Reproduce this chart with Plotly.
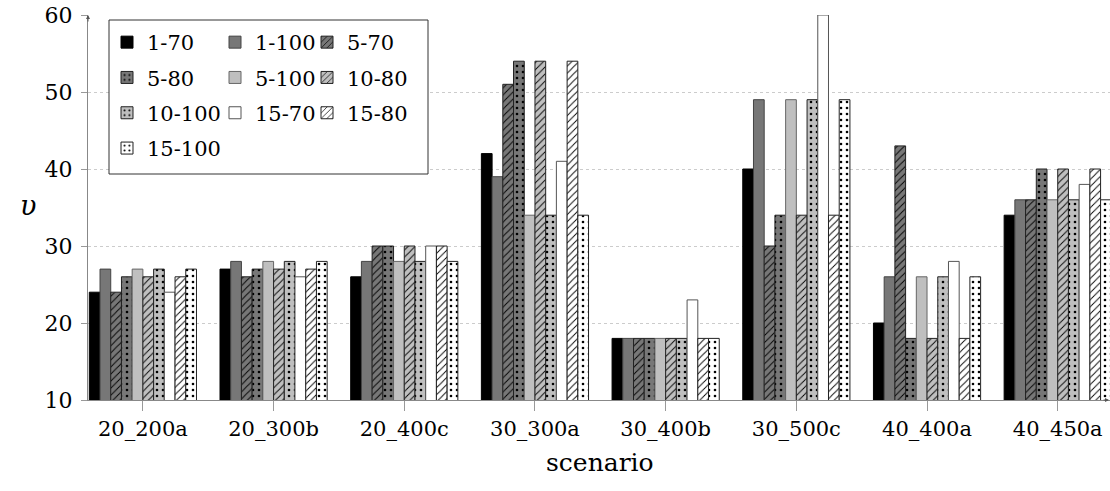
import plotly.graph_objects as go

# Scenario categories on the x axis
scenarios = ["20_200a", "20_300b", "20_400c", "30_300a",
             "30_400b", "30_500c", "40_400a", "40_450a"]

# One series per configuration
series_names = ["1-70", "1-100", "5-70", "5-80", "5-100",
                "10-80", "10-100", "15-70", "15-80", "15-100"]

v_1_70 = [24, 27, 26, 42, 18, 40, 20, 34]
v_1_100 = [27, 28, 28, 39, 18, 49, 26, 36]
v_5_70 = [24, 26, 30, 51, 18, 30, 43, 36]
v_5_80 = [26, 27, 30, 54, 18, 34, 18, 40]
v_5_100 = [27, 28, 28, 34, 18, 49, 26, 36]
v_10_80 = [26, 27, 30, 54, 18, 34, 18, 40]
v_10_100 = [27, 28, 28, 34, 18, 49, 26, 36]
v_15_70 = [24, 26, 30, 41, 23, 60, 28, 38]
v_15_80 = [26, 27, 30, 54, 18, 34, 18, 40]
v_15_100 = [27, 28, 28, 34, 18, 49, 26, 36]

values = [v_1_70, v_1_100, v_5_70, v_5_80, v_5_100,
          v_10_80, v_10_100, v_15_70, v_15_80, v_15_100]

y_ticks = [10, 20, 30, 40, 50, 60]

# fill colour, pattern shape, outline colour
styles = [
    ("#000000", "", "#000000"),
    ("#777777", "", "#444444"),
    ("#777777", "/", "#222222"),
    ("#777777", ".", "#222222"),
    ("#bfbfbf", "", "#666666"),
    ("#bfbfbf", "/", "#222222"),
    ("#bfbfbf", ".", "#222222"),
    ("#ffffff", "", "#555555"),
    ("#ffffff", "/", "#222222"),
    ("#ffffff", ".", "#222222"),
]

# legend column assignment (three columns, row-major order)
legend_of = ["legend", "legend2", "legend3",
             "legend", "legend2", "legend3",
             "legend", "legend2", "legend3",
             "legend"]

FONT = "DejaVu Serif"

fig = go.Figure()
for i, (name, vals) in enumerate(zip(series_names, values)):
    fill, shape, edge = styles[i]
    if shape == "/":
        pattern = dict(shape=shape, fgcolor="#000000", bgcolor=fill,
                       size=5, solidity=0.18, fillmode="replace")
    elif shape == ".":
        pattern = dict(shape=shape, fgcolor="#000000", bgcolor=fill,
                       size=6, solidity=0.15, fillmode="replace")
    else:
        pattern = dict(shape="")
    fig.add_trace(go.Bar(
        x=scenarios, y=vals, name=name,
        marker=dict(color=fill, line=dict(color=edge, width=1),
                    pattern=pattern),
        legend=legend_of[i], legendgroup=name,
    ))

W, H = 1110, 491
ml, mr, mt, mb = 88, 0, 15, 91
pw = W - ml - mr
ph = H - mt - mb


def px_x(p):
    return (p - ml) / pw


def px_y(p):
    return (H - mb - p) / ph


leg_common = dict(font=dict(family=FONT, size=21, color="#000"),
                  bgcolor="rgba(0,0,0,0)", borderwidth=0,
                  xanchor="left", yanchor="top", tracegroupgap=5,
                  itemwidth=30)

fig.update_layout(
    width=W, height=H,
    margin=dict(l=ml, r=mr, t=mt, b=mb),
    paper_bgcolor="white", plot_bgcolor="white",
    barmode="group", bargap=0.18, bargroupgap=0,
    font=dict(family=FONT, size=21, color="#000"),
    showlegend=True,
    legend=dict(x=px_x(107), y=px_y(22), **leg_common),
    legend2=dict(x=px_x(215), y=px_y(22), **leg_common),
    legend3=dict(x=px_x(307), y=px_y(22), **leg_common),
    xaxis=dict(
        range=[-0.42, 7.4],
        showline=True, linecolor="#888888", linewidth=1,
        ticks="outside", ticklen=10, tickcolor="#999999",
        tickfont=dict(family=FONT, size=21, color="#000"),
        showgrid=False, zeroline=False,
    ),
    yaxis=dict(
        range=[10, 60], tickvals=y_ticks,
        showline=True, linecolor="#888888", linewidth=1,
        ticks="outside", ticklen=6, tickcolor="#999999",
        ticklabelstandoff=4,
        tickfont=dict(family=FONT, size=22, color="#000"),
        showgrid=True, gridcolor="#cccccc", griddash="dot", gridwidth=1,
        zeroline=False,
    ),
    shapes=[
        # legend frame
        dict(type="rect", xref="paper", yref="paper",
             x0=px_x(109), x1=px_x(428), y0=px_y(174), y1=px_y(20),
             line=dict(color="#333333", width=1), fillcolor="white",
             layer="above"),
    ],
    annotations=[
        dict(text="scenario", xref="paper", yref="paper",
             x=px_x(600), y=px_y(462), xanchor="center", yanchor="middle",
             showarrow=False, font=dict(family=FONT, size=25, color="#000")),
        dict(text="<i>υ</i>", xref="paper", yref="paper",
             x=px_x(28), y=px_y(205), xanchor="center", yanchor="middle",
             showarrow=False, font=dict(family=FONT, size=27, color="#000")),
        # axis arrow heads
        dict(x=1, y=0, xref="paper", yref="paper", ax=-8, ay=0,
             showarrow=True, arrowhead=2, arrowsize=0.8, arrowwidth=1,
             arrowcolor="#555555", text=""),
        dict(x=0, y=1, xref="paper", yref="paper", ax=0, ay=8,
             showarrow=True, arrowhead=2, arrowsize=0.8, arrowwidth=1,
             arrowcolor="#555555", text=""),
    ],
)

fig.write_html("out.html")
